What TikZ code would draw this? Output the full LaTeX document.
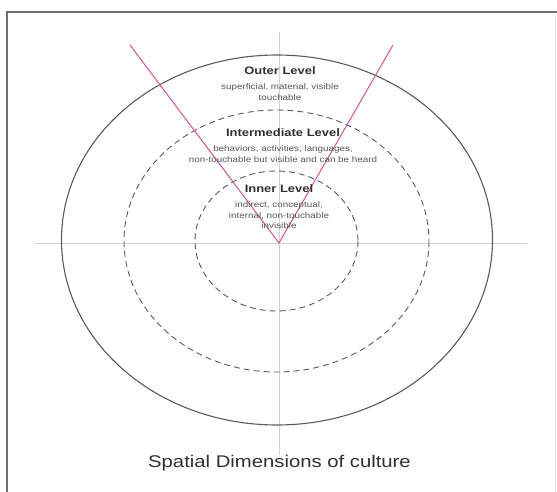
\documentclass[tikz,border=0pt]{standalone}
\usepackage{fontspec}
\setmainfont{Liberation Sans}[FakeStretch=1.2]
\usepackage{xcolor}
\usetikzlibrary{positioning}
\definecolor{framegray}{HTML}{6E6E6E}
\definecolor{ringgray}{HTML}{5A5A5A}
\definecolor{axisgray}{HTML}{D2D2D2}
\definecolor{vpink}{HTML}{D0578A}
\definecolor{textdark}{HTML}{303030}
\definecolor{textsoft}{HTML}{555555}

\begin{document}
\begin{tikzpicture}[x=1pt,y=-1pt]
  \tikzset{lvltitle/.style={font=\fontsize{10.8}{12}\selectfont\bfseries, text=textdark, inner sep=0pt}, lvldesc/.style={font=\fontsize{8.2}{10.5}\selectfont, text=textsoft, align=center, inner sep=0pt}, ring/.style={draw=ringgray, line width=0.9pt, dash pattern=on 6pt off 4pt}}
  \useasboundingbox (0,0) rectangle (557,492);
  % frame and axes
  \draw[framegray, line width=1.2pt] (7,492) -- (7,12) -- (557,12);
  \draw[axisgray!60, line width=0.6pt] (555,14) -- (555,492);
  \coordinate (axW) at (34,243);
  \coordinate (axE) at (527,243);
  \coordinate (axN) at (279,32);
  \coordinate (axS) at (279,455);
  \draw[axisgray, line width=0.8pt] (axW) -- (axE);
  \draw[axisgray, line width=0.8pt] (axN) -- (axS);
  % rings
  \coordinate (ctr) at (277,240);
  \draw[ringgray, line width=1.1pt] (ctr) ellipse [x radius=215.5, y radius=185];
  \draw[ring] (276.5,241) ellipse [x radius=152.5, y radius=131];
  \draw[ring] (276.5,241) ellipse [x radius=81.5, y radius=70];
  % the V
  \coordinate (vtip) at (279,243);
  \coordinate (vleft) at (130,45);
  \coordinate (vright) at (393,45);
  \draw[vpink, line width=1pt] (vleft) -- (vtip) -- (vright);
  % levels
  \node[lvltitle] (outerT) at (280,71) {Outer Level};
  \node[lvldesc, below=8.5pt of outerT] (outerD) {superficial, material, visible\\touchable};
  \node[lvltitle] (midT) at (283,133) {Intermediate Level};
  \node[lvldesc, below=8.5pt of midT] (midD) {behaviors, activities, languages,\\non-touchable but visible and can be heard};
  \node[lvltitle] (innerT) at (279,189) {Inner Level};
  \node[lvldesc, below=8.5pt of innerT] (innerD) {indirect, conceptual,\\internal, non-touchable\\invisible};
  \node[font=\fontsize{16.9}{20}\selectfont, text=textdark, inner sep=0pt] (caption) at (279.5,463) {Spatial Dimensions of culture};
\end{tikzpicture}
\end{document}
